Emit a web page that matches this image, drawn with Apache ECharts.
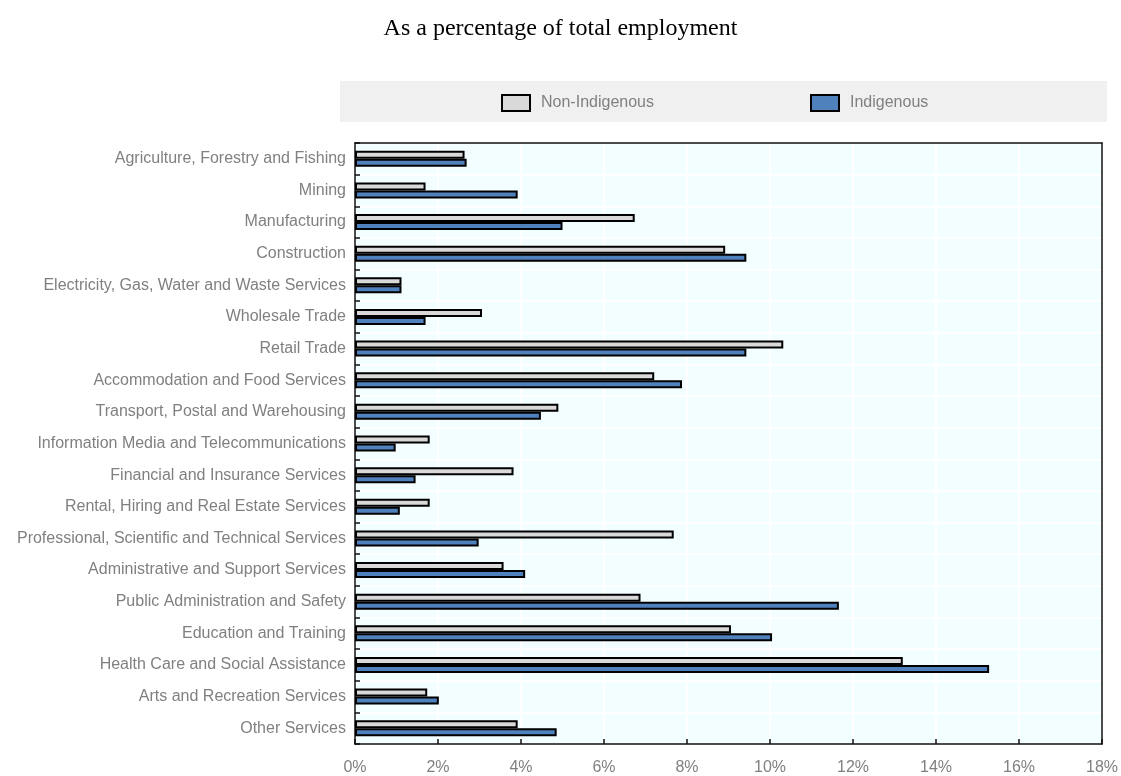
<!DOCTYPE html>
<html>
<head>
<meta charset="utf-8">
<script src="https://cdn.jsdelivr.net/npm/echarts@6/dist/echarts.min.js"></script>
<style>
html,body{margin:0;padding:0;background:#fff;}
#chart{width:1121px;height:776px;}
</style>
</head>
<body>
<div id="chart"></div>
<script>
const categories = [
  'Agriculture, Forestry and Fishing',
  'Mining',
  'Manufacturing',
  'Construction',
  'Electricity, Gas, Water and Waste Services',
  'Wholesale Trade',
  'Retail Trade',
  'Accommodation and Food Services',
  'Transport, Postal and Warehousing',
  'Information Media and Telecommunications',
  'Financial and Insurance Services',
  'Rental, Hiring and Real Estate Services',
  'Professional, Scientific and Technical Services',
  'Administrative and Support Services',
  'Public Administration and Safety',
  'Education and Training',
  'Health Care and Social Assistance',
  'Arts and Recreation Services',
  'Other Services'
];
const nonIndigenous = [2.64, 1.70, 6.74, 8.92, 1.12, 3.06, 10.32, 7.21, 4.90, 1.80, 3.82, 1.80, 7.68, 3.58, 6.88, 9.06, 13.20, 1.74, 3.92];
const indigenous    = [2.69, 3.92, 5.00, 9.43, 1.12, 1.70, 9.43, 7.88, 4.48, 0.98, 1.46, 1.08, 2.98, 4.10, 11.66, 10.05, 15.28, 2.02, 4.86];
const xTicks = [0, 2, 4, 6, 8, 10, 12, 14, 16, 18];

const sans = "'Liberation Sans', Arial, sans-serif";
const labelColor = '#808080';
const frame = {color: '#111', width: 1.5};

const chart = echarts.init(document.getElementById('chart'), null, {renderer: 'canvas'});
chart.setOption({
  animation: false,
  backgroundColor: '#ffffff',
  title: {
    text: 'As a percentage of total employment',
    left: 'center',
    top: 12,
    textStyle: {fontFamily: "'Liberation Serif', 'Times New Roman', serif", fontSize: 24, fontWeight: 'normal', color: '#000'}
  },
  graphic: [{
    type: 'rect', left: 340, top: 81, z: -1,
    shape: {width: 767, height: 41},
    style: {fill: '#f0f0f0'}
  }],
  legend: [{
    data: ['Non-Indigenous'],
    left: 501, top: 94, icon: 'rect',
    itemWidth: 28, itemHeight: 16, padding: 0,
    itemStyle: {borderColor: '#000', borderWidth: 2},
    textStyle: {fontFamily: sans, fontSize: 16, color: labelColor, padding: [0, 0, 0, 6]}
  }, {
    data: ['Indigenous'],
    left: 810, top: 94, icon: 'rect',
    itemWidth: 28, itemHeight: 16, padding: 0,
    itemStyle: {borderColor: '#000', borderWidth: 2},
    textStyle: {fontFamily: sans, fontSize: 16, color: labelColor, padding: [0, 0, 0, 6]}
  }],
  grid: {
    left: 355, right: 17, top: 143, bottom: 32,
    show: true, backgroundColor: '#F2FEFF', borderWidth: 0,
    containLabel: false
  },
  xAxis: [{
    type: 'value', min: 0, max: 18, interval: 2, position: 'bottom',
    axisLine: {show: true, lineStyle: frame},
    axisTick: {show: true, inside: true, length: 5, lineStyle: frame},
    splitLine: {show: true, lineStyle: {color: '#ffffff', width: 2}},
    axisLabel: {
      margin: 16, fontFamily: sans, fontSize: 16, color: labelColor,
      formatter: v => xTicks.includes(v) ? v + '%' : ''
    }
  }, {
    type: 'value', min: 0, max: 18, interval: 2, position: 'top',
    axisLine: {show: true, onZero: false, lineStyle: frame},
    axisTick: {show: false}, axisLabel: {show: false}, splitLine: {show: false}
  }],
  yAxis: [{
    type: 'category', data: categories, inverse: true, position: 'left',
    axisLine: {show: true, lineStyle: frame},
    axisTick: {show: true, inside: true, length: 5, lineStyle: frame},
    splitLine: {show: true, lineStyle: {color: '#ffffff', width: 2}},
    axisLabel: {margin: 9, fontFamily: sans, fontSize: 16, color: labelColor}
  }, {
    type: 'category', data: categories, inverse: true, position: 'right',
    axisLine: {show: true, onZero: false, lineStyle: frame},
    axisTick: {show: false}, axisLabel: {show: false}, splitLine: {show: false}
  }],
  series: [{
    name: 'Non-Indigenous', type: 'bar', data: nonIndigenous,
    xAxisIndex: 0, yAxisIndex: 0,
    barWidth: 8, barGap: '0%',
    itemStyle: {color: '#d9d9d9', borderColor: '#000', borderWidth: 2}
  }, {
    name: 'Indigenous', type: 'bar', data: indigenous,
    xAxisIndex: 0, yAxisIndex: 0,
    barWidth: 8, barGap: '0%',
    itemStyle: {color: '#4f81bd', borderColor: '#000', borderWidth: 2}
  }]
});
</script>
</body>
</html>
